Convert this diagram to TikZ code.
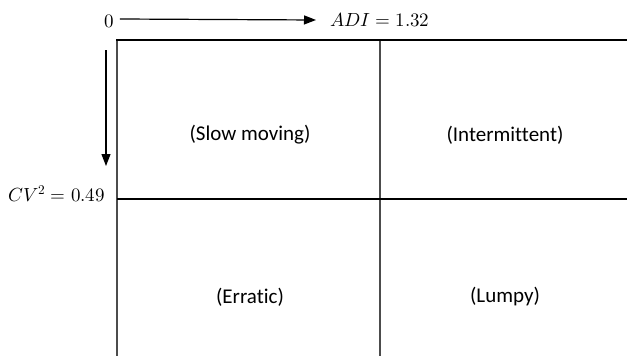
\documentclass[tikz,border=0pt]{standalone}
\usepackage{fontspec}
\usepackage{unicode-math}
\setmainfont{Carlito}[Ligatures=NoCommon]
\setmathfont{Latin Modern Math}
\usetikzlibrary{arrows.meta}
\tikzset{
  quadlabel/.style={font=\fontsize{21}{25}\selectfont},
  axislabel/.style={font=\fontsize{19}{23}\selectfont, inner sep=0pt},
  axisarrow/.style={-{Triangle[length=12pt,width=9pt]}, line width=1.2pt},
}
\begin{document}
\begin{tikzpicture}[x=1pt, y=-1pt]
        \useasboundingbox (0,0) rectangle (627,356);

        % Define the grid of the four classes
        \draw[line width=1.5pt, black!70] (117,356) -- (117,40);
        \draw[line width=1.5pt, black!70] (380,40) -- (380,356);
        \draw[line width=2pt] (116.4,40) -- (627,40);
        \draw[line width=2pt] (117,199) -- (627,199);

        % Add the axis labels and arrows
        \node[axislabel] (zero) at (109,21) {$0$};
        \node[axislabel, anchor=west] (adi) at (330,20) {$ADI = 1.32$};
        \draw[axisarrow] (zero.east) ++(6,-2) coordinate (adistart) -- (adi.west -| 316,0) coordinate (adiend);
        \node[axislabel, anchor=east] (cv) at (105,194) {$CV^2 = 0.49$};
        \coordinate (cvstart) at (106,50);
        \coordinate (cvend) at (106,166);
        \draw[axisarrow] (cvstart) -- (cvend);

        % Add the names of the classes
        \node[quadlabel] (slow) at (250,135) {(Slow moving)};
        \node[quadlabel] (inter) at (505,135) {(Intermittent)};
        \node[quadlabel] (erratic) at (250,297) {(Erratic)};
        \node[quadlabel] (lumpy) at (505,297) {(Lumpy)};
    \end{tikzpicture}
\end{document}
